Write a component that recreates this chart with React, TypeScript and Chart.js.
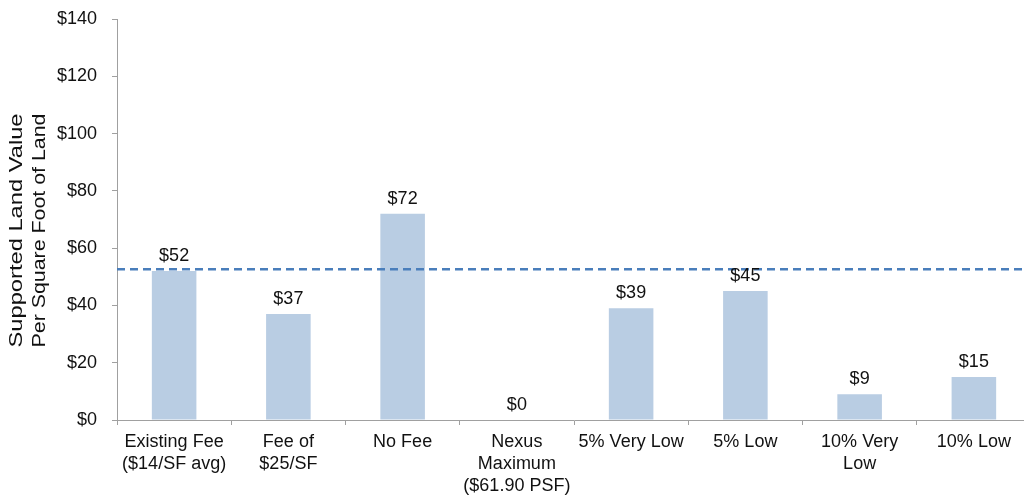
import React, { useEffect, useRef } from "react";
import { Chart, registerables } from "chart.js";

Chart.register(...registerables);

const categories: string[][] = [
  ["Existing Fee", "($14/SF avg)"],
  ["Fee of", "$25/SF"],
  ["No Fee"],
  ["Nexus", "Maximum", "($61.90 PSF)"],
  ["5% Very Low"],
  ["5% Low"],
  ["10% Very", "Low"],
  ["10% Low"],
];
const values: number[] = [52, 37, 72, 0, 39, 45, 9, 15];
const valueLabels: string[] = ["$52", "$37", "$72", "$0", "$39", "$45", "$9", "$15"];
const referenceLine = 52.6;
const yMin = 0;
const yMax = 140;
const yStep = 20;
const yTitle: string[] = ["Supported Land Value", "Per Square Foot of Land"];

const FONT = '"Liberation Sans", Arial, sans-serif';
const TEXT = "#111111";
const AXIS = "#a0a0a0";
const BAR = "#b9cde3";
const LINE = "#4a7ebb";

const valueLabelPlugin = {
  id: "valueLabels",
  afterDatasetsDraw(chart: any) {
    const ctx = chart.ctx;
    const meta = chart.getDatasetMeta(0);
    ctx.save();
    ctx.font = `18px ${FONT}`;
    ctx.fillStyle = TEXT;
    ctx.textAlign = "center";
    ctx.textBaseline = "alphabetic";
    meta.data.forEach((bar: any, i: number) => {
      ctx.fillText(valueLabels[i], bar.x, bar.y - 10);
    });
    ctx.restore();
  },
};

const refLinePlugin = {
  id: "refLine",
  afterDatasetsDraw(chart: any) {
    const ctx = chart.ctx;
    const { left, right } = chart.chartArea;
    const y = chart.scales.y.getPixelForValue(referenceLine);
    ctx.save();
    ctx.strokeStyle = LINE;
    ctx.lineWidth = 2.5;
    ctx.setLineDash([8, 5]);
    ctx.beginPath();
    ctx.moveTo(left, y);
    ctx.lineTo(right, y);
    ctx.stroke();
    ctx.restore();
  },
};

const titlePlugin = {
  id: "yTitleStretched",
  afterDraw(chart: any) {
    const ctx = chart.ctx;
    const area = chart.chartArea;
    const cy = (area.top + area.bottom) / 2 + 11;
    const xs = [17, 40];
    const target = 234;
    ctx.save();
    ctx.font = `18px ${FONT}`;
    ctx.fillStyle = TEXT;
    ctx.textAlign = "center";
    ctx.textBaseline = "middle";
    yTitle.forEach((t, i) => {
      const w = ctx.measureText(t).width;
      ctx.save();
      ctx.translate(xs[i], cy);
      ctx.rotate(-Math.PI / 2);
      ctx.scale(target / w, 1);
      ctx.fillText(t, 0, 0);
      ctx.restore();
    });
    ctx.restore();
  },
};

export default function App() {
  const ref = useRef<HTMLCanvasElement>(null);
  useEffect(() => {
    if (!ref.current) return;
    Chart.defaults.font.family = FONT;
    const chart = new Chart(ref.current, {
      type: "bar",
      data: {
        labels: categories,
        datasets: [
          {
            data: values,
            backgroundColor: BAR,
            borderWidth: 0,
            barPercentage: 0.39,
            categoryPercentage: 1,
          },
        ],
      },
      options: {
        animation: false,
        responsive: false,
        devicePixelRatio: 1,
        layout: { padding: { top: 19, right: 9, left: 0, bottom: 0 } },
        plugins: {
          legend: { display: false },
          tooltip: { enabled: false },
          title: { display: false },
        },
        scales: {
          x: {
            grid: {
              offset: true,
              drawOnChartArea: false,
              drawTicks: true,
              tickLength: 5,
              color: AXIS,
            },
            border: { color: AXIS, width: 1 },
            ticks: {
              color: TEXT,
              font: { size: 18, lineHeight: 1.22 },
              padding: 6,
              maxRotation: 0,
              autoSkip: false,
            },
            afterFit: (s: any) => {
              s.height = 76;
              s.paddingLeft = 0;
              s.paddingRight = 0;
            },
          },
          y: {
            min: yMin,
            max: yMax,
            grid: {
              drawOnChartArea: false,
              drawTicks: true,
              tickLength: 5,
              color: AXIS,
            },
            border: { color: AXIS, width: 1 },
            ticks: {
              stepSize: yStep,
              color: TEXT,
              font: { size: 18 },
              padding: 15,
              callback: (v: any) => "$" + v,
            },
            afterFit: (s: any) => {
              s.width = 117;
              s.paddingTop = 0;
              s.paddingBottom = 0;
            },
          },
        },
      },
      plugins: [refLinePlugin, valueLabelPlugin, titlePlugin],
    });
    return () => chart.destroy();
  }, []);
  return (
    <div
      style={{
        position: "fixed",
        left: 0,
        top: 0,
        width: 1024,
        height: 496,
        overflow: "hidden",
        background: "#fff",
      }}
    >
      <canvas ref={ref} width={1040} height={496} style={{ display: "block" }} />
    </div>
  );
}
